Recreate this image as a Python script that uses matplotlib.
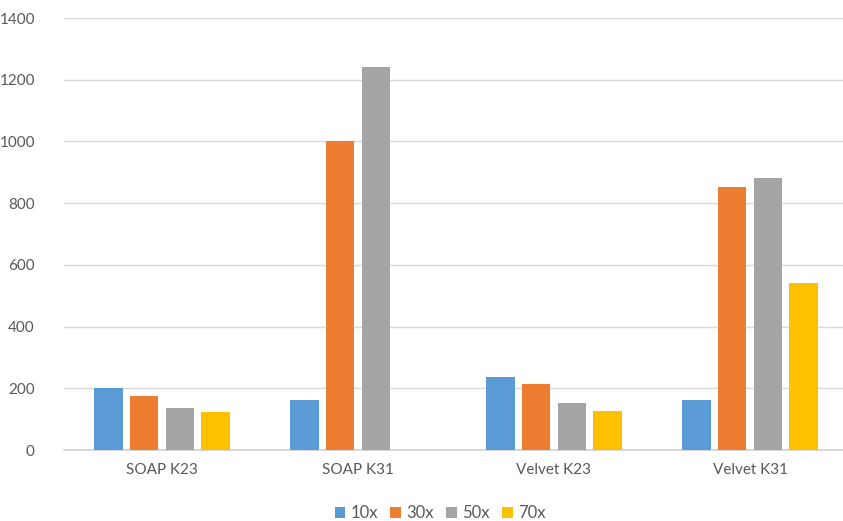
import matplotlib
matplotlib.use("Agg")
import matplotlib.pyplot as plt
import numpy as np

categories = ["SOAP K23", "SOAP K31", "Velvet K23", "Velvet K31"]
series_names = ["10x", "30x", "50x", "70x"]
cov_10x = [201, 162, 237, 162]
cov_30x = [175, 1000, 215, 853]
cov_50x = [136, 1242, 152, 880]
cov_70x = [123, 0, 126, 542]
colors = ["#5B9BD5", "#ED7D31", "#A5A5A5", "#FFC000"]
yticks = [0, 200, 400, 600, 800, 1000, 1200, 1400]

plt.rcParams["font.family"] = ["Lato", "DejaVu Sans"]
text_color = "#595959"

fig = plt.figure(figsize=(8.43, 5.21), dpi=100)
ax = fig.add_axes([64 / 843, 1 - 450 / 521, 784 / 843, 432 / 521])

x = np.arange(len(categories))
step = 0.182
width = 0.143
all_series = [cov_10x, cov_30x, cov_50x, cov_70x]
for i, (name, vals, c) in enumerate(zip(series_names, all_series, colors)):
    ax.bar(x + (i - 1.5) * step, vals, width=width, color=c, label=name, zorder=3)

ax.set_xlim(-0.5, len(categories) - 0.5)
ax.set_ylim(0, 1400)
ax.set_yticks(yticks)
ax.set_yticklabels([str(t) for t in yticks])
ax.set_xticks(x)
ax.set_xticklabels(categories)
ax.yaxis.grid(True, color="#D9D9D9", linewidth=1.0, zorder=0)
ax.set_axisbelow(True)
for s in ["top", "right", "left"]:
    ax.spines[s].set_visible(False)
ax.spines["bottom"].set_color("#D0D0D0")
ax.spines["bottom"].set_linewidth(1.2)
ax.tick_params(axis="both", length=0, colors=text_color, labelsize=11)
ax.tick_params(axis="y", pad=21)
ax.tick_params(axis="x", pad=9)

leg = fig.legend(loc="center", bbox_to_anchor=(440 / 843, 1 - 513 / 521), ncol=4,
                 frameon=False, fontsize=12, handlelength=0.65, handleheight=0.65,
                 handletextpad=0.3, columnspacing=0.75, borderpad=0)
for t in leg.get_texts():
    t.set_color(text_color)

fig.savefig("out.png", dpi=100)
